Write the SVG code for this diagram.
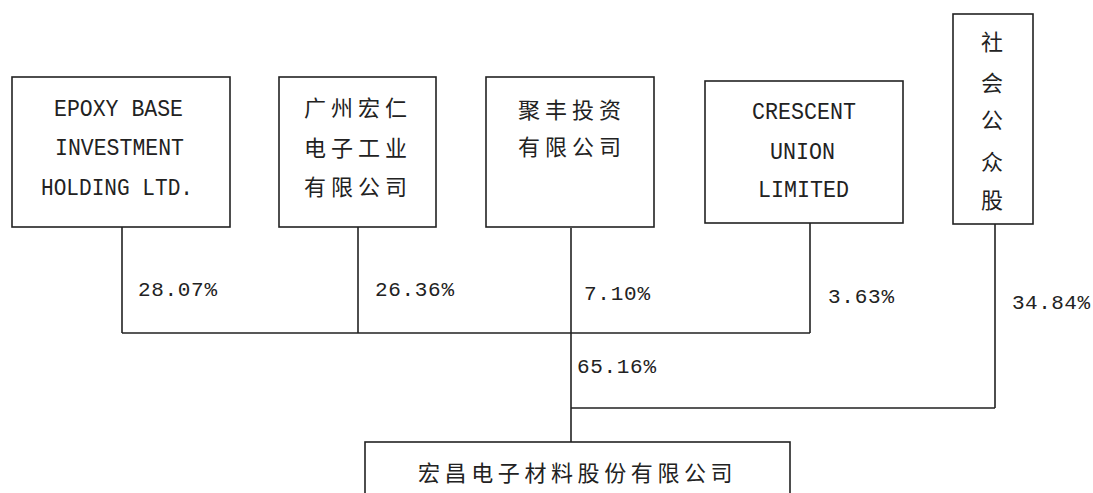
<svg xmlns="http://www.w3.org/2000/svg" width="1093" height="493" viewBox="0 0 1093 493">
<style>
.box{fill:#fff;stroke:#222;stroke-width:1.6}
.ln{fill:none;stroke:#222;stroke-width:1.6}
.lat{font-family:"Liberation Mono","DejaVu Sans Mono",monospace;font-size:23px;fill:#222}
.cjk{font-family:"Noto Sans CJK SC","Noto Sans",sans-serif;font-size:22px;fill:#222;letter-spacing:5px}
.pct{font-family:"Liberation Mono","DejaVu Sans Mono",monospace;font-size:21px;fill:#222}
</style>
<rect width="1093" height="493" fill="#fff"/>
<g id="connectors">
<path class="ln" d="M122 227V333M358 227V333M810 223V333M122 333H810M571 228V442M995 224V408M571 408H995"/>
</g>
<g id="epoxy">
<rect class="box" x="12" y="77" width="218" height="150"/>
<text class="lat" x="54" y="116" textLength="129" lengthAdjust="spacingAndGlyphs">EPOXY BASE</text>
<text class="lat" x="55" y="155" textLength="129" lengthAdjust="spacingAndGlyphs">INVESTMENT</text>
<text class="lat" x="41" y="195" textLength="152" lengthAdjust="spacingAndGlyphs">HOLDING LTD.</text>
</g>
<g id="hongren">
<rect class="box" x="279" y="77" width="157" height="150"/>
<text class="cjk" x="304" y="116">广州宏仁</text>
<text class="cjk" x="304" y="156">电子工业</text>
<text class="cjk" x="304" y="195">有限公司</text>
</g>
<g id="jufeng">
<rect class="box" x="486" y="77" width="168" height="150"/>
<text class="cjk" x="518" y="118">聚丰投资</text>
<text class="cjk" x="518" y="155">有限公司</text>
</g>
<g id="crescent">
<rect class="box" x="705" y="81" width="198" height="142"/>
<text class="lat" x="752" y="119" textLength="104" lengthAdjust="spacingAndGlyphs">CRESCENT</text>
<text class="lat" x="770" y="159" textLength="65" lengthAdjust="spacingAndGlyphs">UNION</text>
<text class="lat" x="758" y="197" textLength="91" lengthAdjust="spacingAndGlyphs">LIMITED</text>
</g>
<g id="public">
<rect class="box" x="953" y="14" width="80" height="210"/>
<text class="cjk" x="992" y="50" text-anchor="middle" style="letter-spacing:0">社</text>
<text class="cjk" x="992" y="91" text-anchor="middle" style="letter-spacing:0">会</text>
<text class="cjk" x="992" y="128" text-anchor="middle" style="letter-spacing:0">公</text>
<text class="cjk" x="992" y="170" text-anchor="middle" style="letter-spacing:0">众</text>
<text class="cjk" x="992" y="208" text-anchor="middle" style="letter-spacing:0">股</text>
</g>
<g id="labels">
<text class="pct" x="138" y="296" textLength="79">28.07%</text>
<text class="pct" x="375" y="296" textLength="79">26.36%</text>
<text class="pct" x="584" y="300" textLength="66">7.10%</text>
<text class="pct" x="828" y="303" textLength="66">3.63%</text>
<text class="pct" x="1012" y="309" textLength="78">34.84%</text>
<text class="pct" x="577" y="373" textLength="79">65.16%</text>
</g>
<g id="hongchang">
<rect class="box" x="365" y="442" width="425" height="60"/>
<text class="cjk" x="418" y="481" style="letter-spacing:4.6px">宏昌电子材料股份有限公司</text>
</g>
</svg>
